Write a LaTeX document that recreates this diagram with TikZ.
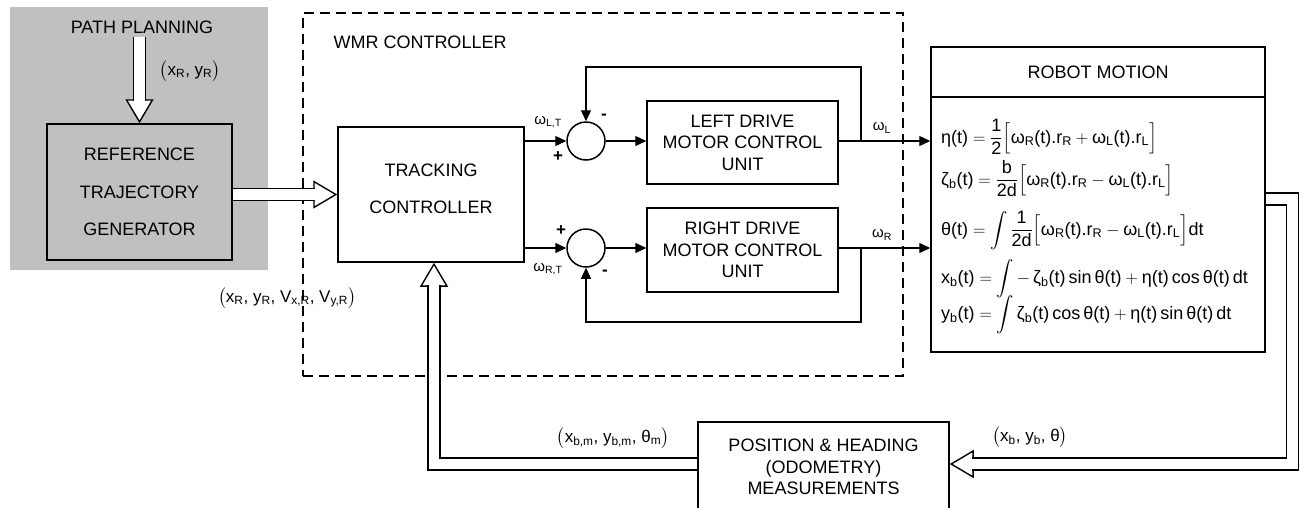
\documentclass[tikz,border=0pt]{standalone}
\usepackage{exscale}
\usepackage{fontspec}
\setmainfont{Liberation Sans}
\usetikzlibrary{arrows.meta, positioning, calc}
\usepackage{xcolor}
\definecolor{bggray}{RGB}{192,192,192}
\newcommand{\tx}[1]{\hbox{#1}}
\newcommand{\sbs}[1]{\textsubscript{#1}}

\begin{document}
\begin{tikzpicture}[
    x=1pt, y=-1pt,
    box/.style={
        rectangle, draw, line width=1.5pt,
        align=center,
        font=\fontsize{18}{21.5}\selectfont
    },
    sum/.style={circle, draw, line width=1.5pt, minimum size=38pt, inner sep=0pt},
    sig/.style={-{Triangle[length=11pt, width=10pt]}, line width=1.3pt},
    dbl/.style={double distance=10.5pt, line width=1.4pt},
    hollow/.style={-{Triangle[length=24pt, width=28pt, fill=white]}, line width=1.4pt},
    lbl/.style={font=\fontsize{15}{18}\selectfont, inner sep=0pt},
    tup/.style={font=\fontsize{17}{20}\selectfont, inner sep=0pt},
    pm/.style={font=\bfseries\fontsize{17}{18}\selectfont, inner sep=0pt},
    eqn/.style={anchor=base west, inner sep=0pt, font=\fontsize{18}{21}\selectfont}
]

\useasboundingbox (0,0) rectangle (1300,507);
\fill[white] (0,0) rectangle (1300,507);

% === PATH PLANNING ===

\fill[bggray] (10,7) rectangle (268,270);
\node[font=\fontsize{18}{21}\selectfont] (pp) at (142,27) {PATH PLANNING};
\node[box, fill=bggray, minimum width=185pt, minimum height=136pt,
      font=\fontsize{18}{37.5}\selectfont] (ref) at (139.5,192) {REFERENCE\\TRAJECTORY\\GENERATOR};

% === WMR CONTROLLER ===

\node[draw, dash pattern=on 10pt off 6pt, line width=1.5pt,
      minimum width=600pt, minimum height=363pt] (wmr) at (603,194.5) {};
\node[anchor=west, font=\fontsize{18}{21}\selectfont] (wmrl) at (330,42) {WMR CONTROLLER};

\node[box, minimum width=186pt, minimum height=135pt, text depth=12pt,
      font=\fontsize{18}{37}\selectfont] (trk) at (431,194.5) {TRACKING\\CONTROLLER};

\node[sum] (sumL) at (586,141) {};
\node[sum] (sumR) at (586,248) {};

\node[box, minimum width=191pt, minimum height=83pt] (motL) at (742.5,142.5) {LEFT DRIVE\\MOTOR CONTROL\\UNIT};
\node[box, minimum width=191pt, minimum height=84pt] (motR) at (742.5,250) {RIGHT DRIVE\\MOTOR CONTROL\\UNIT};

\coordinate (tapL) at (861,141);
\coordinate (fbL) at (861,67);
\coordinate (tapR) at (861,248);
\coordinate (fbR) at (861,322);

% === ROBOT MOTION ===

\node[box, minimum width=334pt, minimum height=50pt] (rmh) at (1098,72) {ROBOT MOTION};
\node[box, minimum width=334pt, minimum height=255pt, below=-1.5pt of rmh] (rmb) {};

\node[eqn] (eq1) at (941,143) {$\displaystyle \tx{η(t)} = \frac{\tx{1}}{\tx{2}}\Bigl[\tx{ω\sbs{R}(t).r\sbs{R}} + \tx{ω\sbs{L}(t).r\sbs{L}}\Bigr]$};
\node[eqn] (eq2) at (941,185) {$\displaystyle \tx{ζ\sbs{b}(t)} = \frac{\tx{b}}{\tx{2d}}\Bigl[\tx{ω\sbs{R}(t).r\sbs{R}} - \tx{ω\sbs{L}(t).r\sbs{L}}\Bigr]$};
\node[eqn] (eq3) at (941,235) {$\displaystyle \tx{θ(t)} = \int\frac{\tx{1}}{\tx{2d}}\Bigl[\tx{ω\sbs{R}(t).r\sbs{R}} - \tx{ω\sbs{L}(t).r\sbs{L}}\Bigr]\tx{dt}$};
\node[eqn] (eq4) at (941,283) {$\displaystyle \tx{x\sbs{b}(t)} = \int - \,\tx{ζ\sbs{b}(t)\,sin\,θ(t)} + \tx{η(t)\,cos\,θ(t)\,dt}$};
\node[eqn] (eq5) at (941,319) {$\displaystyle \tx{y\sbs{b}(t)} = \int \tx{ζ\sbs{b}(t)\,cos\,θ(t)} + \tx{η(t)\,sin\,θ(t)\,dt}$};

% === MEASUREMENTS ===

\node[box, minimum width=251pt, minimum height=90pt] (meas) at (823.5,467) {POSITION \& HEADING\\(ODOMETRY)\\MEASUREMENTS};
\coordinate (measin) at ([yshift=3pt]meas.east);
\coordinate (measout) at ([yshift=3pt]meas.west);

% === SIGNALS ===

% left wheel loop
\draw[sig] (trk.east |- sumL) -- (sumL.west);
\draw[sig] (sumL.east) -- (sumL.east -| motL.west);
\draw[sig] (motL.east |- sumL) -- (sumL -| rmb.west);
\draw[sig] (tapL) -- (fbL) -| (sumL.north);

% right wheel loop
\draw[sig] (trk.east |- sumR) -- (sumR.west);
\draw[sig] (sumR.east) -- (sumR.east -| motR.west);
\draw[sig] (motR.east |- sumR) -- (sumR -| rmb.west);
\draw[sig] (tapR) -- (fbR) -| (sumR.south);

\node[lbl] (wLT) at (548,122) {ω\sbs{L,T}};
\node[lbl] (wRT) at (548,269) {ω\sbs{R,T}};
\node[lbl] (wL) at (882,128) {ω\sbs{L}};
\node[lbl] (wR) at (882,235) {ω\sbs{R}};
\node[pm] (mL) at (604,117) {-};
\node[pm] (pL) at (558,157) {+};
\node[pm] (pR) at (561,231) {+};
\node[pm] (mR) at (605,273) {-};

% === DOUBLE ARROWS ===

% path planning -> reference generator
\draw[hollow] (ref.north |- pp.south) -- (ref.north);
\draw[dbl] (ref.north |- pp.south) -- ($(ref.north)+(0,-22.6)$);
\node[tup] (xyR) at (190,71) {$\bigl($x\sbs{R}, y\sbs{R}$\bigr)$};

% reference generator -> tracking controller
\draw[hollow] (ref.east |- trk.west) -- (trk.west);
\draw[dbl] (ref.east |- trk.west) -- ($(trk.west)+(-22.6,0)$);
\node[tup] (xyV) at (287,298) {$\bigl($x\sbs{R}, y\sbs{R}, V\sbs{x,R}, V\sbs{y,R}$\bigr)$};

% robot motion -> measurements
\coordinate (rmo) at ([yshift=25.5pt]rmb.east);
\coordinate (rmc) at ([xshift=26.5pt]rmo);
\draw[hollow] ($(measin)+(30,0)$) -- (measin);
\draw[dbl] (rmo) -- (rmc) |- ($(measin)+(22.6,0)$);
\node[tup] (xyb) at (1030,437) {$\bigl($x\sbs{b}, y\sbs{b}, θ$\bigr)$};

% measurements -> tracking controller
\coordinate (trkin) at ([xshift=3pt]trk.south);
\draw[hollow] (measout -| trkin) -- (trkin);
\draw[dbl] (measout) -| ($(trkin)+(0,22.6)$);
\node[tup] (xym) at (613,438) {$\bigl($x\sbs{b,m}, y\sbs{b,m}, θ\sbs{m}$\bigr)$};

\end{tikzpicture}
\end{document}
